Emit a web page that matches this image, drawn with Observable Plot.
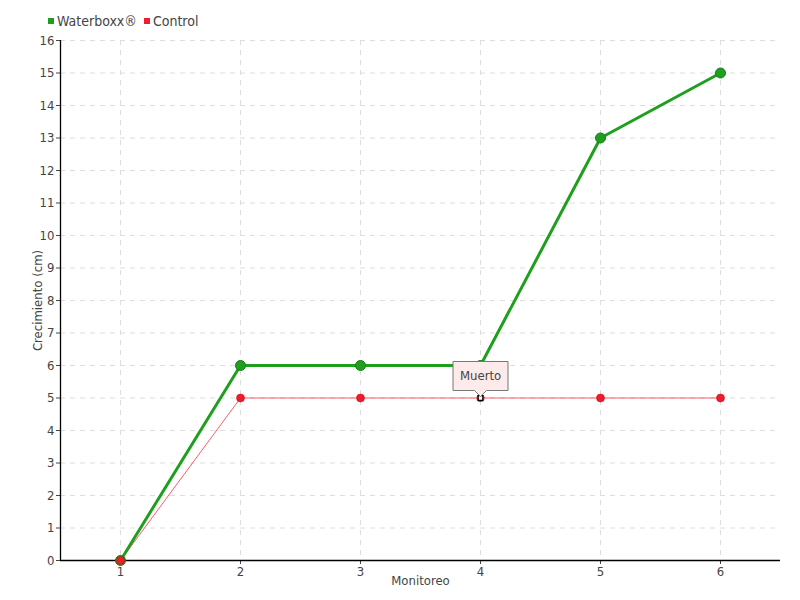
<!DOCTYPE html>
<html><head><meta charset="utf-8">
<script src="https://cdn.jsdelivr.net/npm/d3@7"></script>
<script src="https://cdn.jsdelivr.net/npm/@observablehq/plot@0.6"></script>
<style>
body{margin:0;background:#fff;font-family:"DejaVu Sans Condensed","Liberation Sans Narrow",Roboto,sans-serif;}
#wrap{position:relative;width:800px;height:600px;}
#legend{position:absolute;left:48px;top:13px;font-size:14px;color:#444;display:flex;gap:7px;}
#legend span.sw{display:inline-block;width:6px;height:6px;margin-right:3px;vertical-align:middle;position:relative;top:-1px}
</style></head>
<body><div id="wrap"><div id="legend"></div></div>
<script>
const monitoreo = [1, 2, 3, 4, 5, 6];
const waterboxx = [0, 6, 6, 6, 13, 15];
const control = [0, 5, 5, 5, 5, 5];
const seriesNames = ["Waterboxx®", "Control"];
const seriesColors = ["#1ea01e", "#ee1c2c"];
const yTicks = d3.range(0, 17);
const deadIndex = 3; // monitoreo 4, control
const deadLabel = "Muerto";

const wData = monitoreo.map((m, i) => ({m, v: waterboxx[i]}));
const cData = monitoreo.map((m, i) => ({m, v: control[i]}));
const dead = [cData[deadIndex]];

const legend = document.getElementById("legend");
seriesNames.forEach((n, i) => {
  const s = document.createElement("span");
  s.innerHTML = `<span class="sw" style="background:${seriesColors[i]}"></span>${n}`;
  legend.appendChild(s);
});

const marks = [
  Plot.gridX(monitoreo, {x: d => d, stroke: "#ddd", strokeOpacity: 1, strokeDasharray: "5,5"}),
  Plot.gridY(yTicks, {y: d => d, stroke: "#ddd", strokeOpacity: 1, strokeDasharray: "5,5"}),
  Plot.axisY({ticks: yTicks, tickSize: 4, tickPadding: 2, tickFormat: "d", label: "Crecimiento (cm)", labelAnchor: "center", labelArrow: "none", labelOffset: 28, fontSize: 13, color: "#444"}),
  Plot.axisX({ticks: monitoreo, tickSize: 4, tickPadding: 2, tickFormat: "d", label: "Monitoreo", labelAnchor: "center", labelArrow: "none", labelOffset: 24, fontSize: 13, color: "#444"}),
  Plot.ruleY([0], {stroke: "#000", strokeWidth: 1.3}),
  Plot.ruleX([0.5], {stroke: "#000", strokeWidth: 1.3}),
  Plot.line(cData, {x: "m", y: "v", stroke: seriesColors[1], strokeOpacity: 0.7, strokeWidth: 1}),
  Plot.line(wData, {x: "m", y: "v", stroke: seriesColors[0], strokeWidth: 3}),
  Plot.dot(wData, {x: "m", y: "v", r: 5, fill: seriesColors[0], stroke: "#1a7a1a", strokeWidth: 1}),
  Plot.dot(cData.filter((d, i) => i !== deadIndex), {x: "m", y: "v", r: 4, fill: seriesColors[1], stroke: "#c00", strokeWidth: 0.5}),
  Plot.dot(dead, {x: "m", y: "v", r: 4, fill: seriesColors[1]}),
  Plot.dot(dead, {x: "m", y: "v", symbol: "square", r: 2.6, fill: "#fff", stroke: "#000", strokeWidth: 1.2}),
];
if (Plot.tip) {
  marks.push(Plot.tip(dead, {x: "m", y: "v", title: () => deadLabel, anchor: "bottom", dy: -2, fill: "#fdeaea", stroke: "#777", fontSize: 13, textPadding: 7, pathFilter: null}));
} else {
  marks.push(Plot.text(dead, {x: "m", y: "v", text: () => deadLabel, dy: -21, fontSize: 13, fill: "#444"}));
}

const chart = Plot.plot({
  width: 800, height: 600,
  marginLeft: 60, marginRight: 20, marginTop: 40, marginBottom: 40,
  style: {fontFamily: '"DejaVu Sans Condensed","Liberation Sans Narrow",Roboto,sans-serif', fontSize: "13px", color: "#444", background: "#fff"},
  x: {domain: [0.5, 6.5]},
  y: {domain: [0, 16]},
  marks
});
document.getElementById("wrap").appendChild(chart);
</script></body></html>
